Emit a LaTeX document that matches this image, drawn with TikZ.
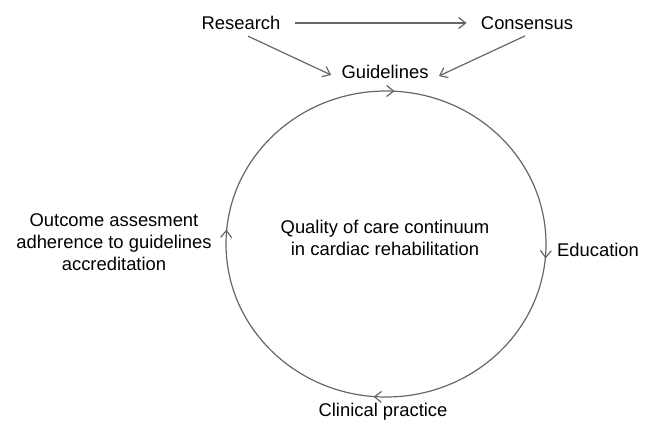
\documentclass[tikz,border=0pt]{standalone}
\usepackage{fontspec}
\setmainfont{Liberation Sans}
\usetikzlibrary{arrows.meta,positioning,decorations.markings}

\begin{document}
\begin{tikzpicture}[x=0.5pt, y=-0.5pt,
  >={Straight Barb[length=3.5pt,width=5.5pt]},
  lbl/.style={font=\fontsize{9.2}{11}\selectfont, inner sep=1pt, align=center},
  flow/.style={draw=black!60, line width=0.6pt, ->},
  cyc/.style={draw=black!60, line width=0.6pt, postaction={decorate},
    decoration={markings,
      mark=at position 0.25 with {\arrow[black!60]{<}},
      mark=at position 0.494 with {\arrow[black!60]{<}},
      mark=at position 0.746 with {\arrow[black!60]{<}},
      mark=at position 0.994 with {\arrow[black!60]{<}}}}]
  \useasboundingbox (0,0) rectangle (646,430);

  % top: where guidelines come from
  \node[lbl] (research) at (241,23) {Research};
  \node[lbl] (consensus) at (527,23) {Consensus};
  \node[lbl] (guide) at (385,72) {Guidelines};
  \draw[flow, shorten <=6pt, shorten >=6pt] (research) -- (consensus);
  \draw[flow] ([xshift=3.5pt,yshift=-2pt]research.south)
    -- ([xshift=-4pt,yshift=-1.5pt]guide.west);
  \draw[flow] ([xshift=-1pt,yshift=-2pt]consensus.south)
    -- ([xshift=4pt,yshift=-2pt]guide.east);

  % the continuum
  \coordinate (mid) at (386,244);
  \draw[cyc] (mid) ellipse [x radius=80pt, y radius=76.5pt];
  \node[lbl] (quality) at (385,238) {Quality of care continuum\\in cardiac rehabilitation};
  \node[lbl] (educ) at (598,250) {Education};
  \node[lbl] (clin) at (383,412) {Clinical practice};
  \node[lbl] (outcome) at (114,242) {Outcome assesment\\adherence to guidelines\\accreditation};
\end{tikzpicture}
\end{document}
